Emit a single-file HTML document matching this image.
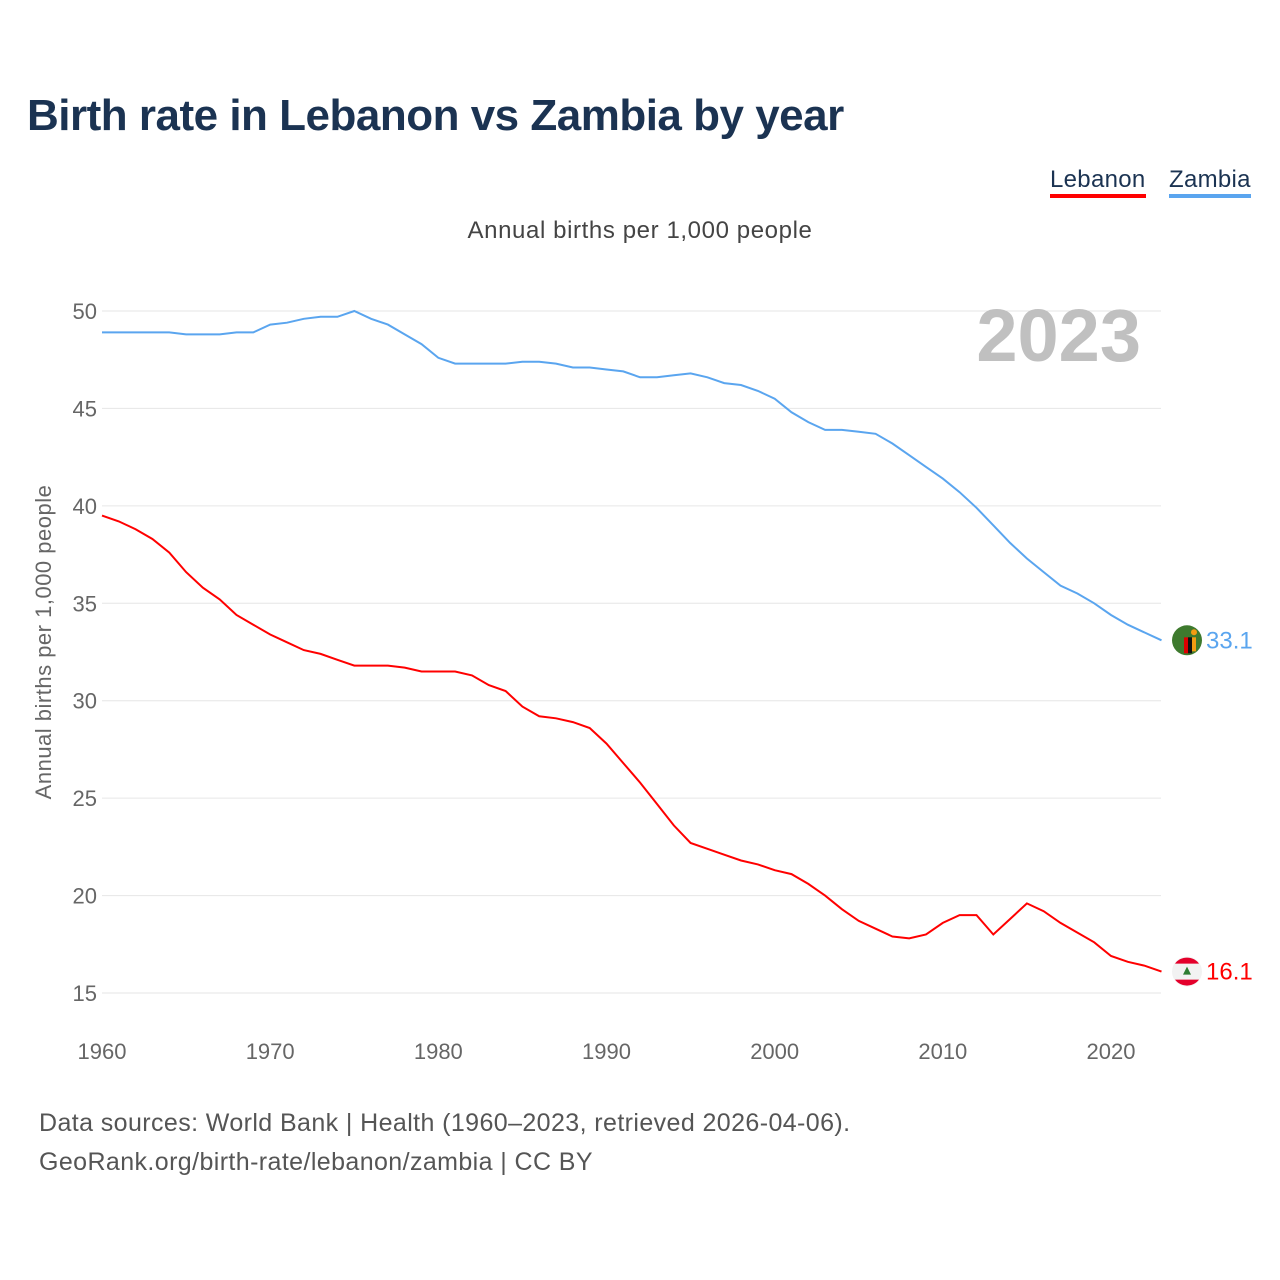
<!DOCTYPE html>
<html><head><meta charset="utf-8">
<style>
html,body{margin:0;padding:0;background:#fff;}
body{width:1280px;height:1280px;position:relative;font-family:"Liberation Sans",sans-serif;overflow:hidden;}
.t{position:absolute;white-space:nowrap;}
</style></head>
<body>
<div class="t" style="left:27px;top:91px;font-size:44px;font-weight:bold;color:#1b3352;letter-spacing:-0.5px;">Birth rate in Lebanon vs Zambia by year</div>
<div class="t" style="left:1050px;top:166px;font-size:24px;color:#1b3352;border-bottom:4px solid #f00;letter-spacing:0.3px;">Lebanon</div>
<div class="t" style="left:1169px;top:166px;font-size:24px;color:#1b3352;border-bottom:4px solid #5aa5ef;letter-spacing:0.3px;">Zambia</div>
<div class="t" style="left:0;width:1280px;text-align:center;top:217px;font-size:24px;color:#444;letter-spacing:0.6px;">Annual births per 1,000 people</div>
<svg id="chart" width="1280" height="1280" style="position:absolute;left:0;top:0;"></svg>
<div class="t" style="left:39px;top:1104px;font-size:25px;color:#555;line-height:39px;letter-spacing:0.4px;">Data sources: World Bank | Health (1960–2023, retrieved 2026-04-06).<br>GeoRank.org/birth-rate/lebanon/zambia | CC BY</div>
<script>
const years=[];for(let y=1960;y<=2023;y++)years.push(y);
const zambia=[48.9,48.9,48.9,48.9,48.9,48.8,48.8,48.8,48.9,48.9,49.3,49.4,49.6,49.7,49.7,50.0,49.6,49.3,48.8,48.3,47.6,47.3,47.3,47.3,47.3,47.4,47.4,47.3,47.1,47.1,47.0,46.9,46.6,46.6,46.7,46.8,46.6,46.3,46.2,45.9,45.5,44.8,44.3,43.9,43.9,43.8,43.7,43.2,42.6,42.0,41.4,40.7,39.9,39.0,38.1,37.3,36.6,35.9,35.5,35.0,34.4,33.9,33.5,33.1];
const lebanon=[39.5,39.2,38.8,38.3,37.6,36.6,35.8,35.2,34.4,33.9,33.4,33.0,32.6,32.4,32.1,31.8,31.8,31.8,31.7,31.5,31.5,31.5,31.3,30.8,30.5,29.7,29.2,29.1,28.9,28.6,27.8,26.8,25.8,24.7,23.6,22.7,22.4,22.1,21.8,21.6,21.3,21.1,20.6,20.0,19.3,18.7,18.3,17.9,17.8,18.0,18.6,19.0,19.0,18.0,18.8,19.6,19.2,18.6,18.1,17.6,16.9,16.6,16.4,16.1];
const yTicks=[15,20,25,30,35,40,45,50];
const xTicks=[1960,1970,1980,1990,2000,2010,2020];
const NS='http://www.w3.org/2000/svg';
const svg=document.getElementById('chart');
const X=y=>102+(y-1960)*(1111-102)/60;
const Y=v=>311+(50-v)*(993-311)/35;
function mk(tag,attrs){const e=document.createElementNS(NS,tag);for(const k in attrs)e.setAttribute(k,attrs[k]);svg.appendChild(e);return e;}
yTicks.forEach(v=>{
  const l=mk('line',{x1:102,x2:1161,y1:Y(v),y2:Y(v),stroke:'#e6e6e6','stroke-width':1});
  
  
  const t=mk('text',{x:97,y:Y(v)+8,'text-anchor':'end','font-size':22,fill:'#666','font-family':'Liberation Sans, sans-serif'});
  t.textContent=v;
  
  
});
xTicks.forEach(v=>{
  const t=mk('text',{x:X(v),y:1059,'text-anchor':'middle','font-size':22,fill:'#666','font-family':'Liberation Sans, sans-serif'});
  t.textContent=v;
  
  
});
const yt=mk('text',{x:0,y:0,transform:'translate(51,642) rotate(-90)','text-anchor':'middle','font-size':22,fill:'#666','font-family':'Liberation Sans, sans-serif','letter-spacing':'0.5'});
yt.textContent='Annual births per 1,000 people';


const yr=mk('text',{x:1141,y:361,'text-anchor':'end','font-size':74,'font-weight':'bold',fill:'#c0c0c0','font-family':'Liberation Sans, sans-serif'});
yr.textContent='2023';


function line(data,color,name){
  const d=data.map((v,i)=>(i?'L':'M')+X(years[i]).toFixed(1)+','+Y(v).toFixed(1)).join('');
  const p=mk('path',{d:d,fill:'none',stroke:color,'stroke-width':2});
  
  
}
line(zambia,'#5aa5ef','zambia-line');
line(lebanon,'#f00','lebanon-line');
function endMark(data,color,name){
  const v=data[data.length-1];const cy=Y(v);
  const c=mk('circle',{cx:1187,cy:cy,r:15,fill:name==='zambia'?'#3e7a2e':'#f2f2f2'});
  
  
  if(name==='zambia'){
    mk('rect',{x:1184,y:cy-3,width:4,height:16,fill:'#d00'});
    mk('rect',{x:1188,y:cy-3,width:4,height:16,fill:'#111'});
    mk('rect',{x:1192,y:cy-3,width:4,height:14,fill:'#f39c12'});
    mk('circle',{cx:1194,cy:cy-8,r:3,fill:'#f39c12'});
  }else{
    mk('path',{d:`M1175,${cy-8}A15,15 0 0 1 1199,${cy-8}Z`,fill:'#e4002b'});
    mk('path',{d:`M1175,${cy+8}A15,15 0 0 0 1199,${cy+8}Z`,fill:'#e4002b'});
    mk('polygon',{points:`1187,${cy-5} 1183,${cy+3} 1191,${cy+3}`,fill:'#2e7d32'});
  }
  const t=mk('text',{x:1206,y:cy+8,'font-size':24,fill:color,'font-family':'Liberation Sans, sans-serif'});
  t.textContent=v.toFixed(1);
  
  
}
endMark(zambia,'#5aa5ef','zambia');
endMark(lebanon,'#f00','lebanon');
</script>
</body></html>
